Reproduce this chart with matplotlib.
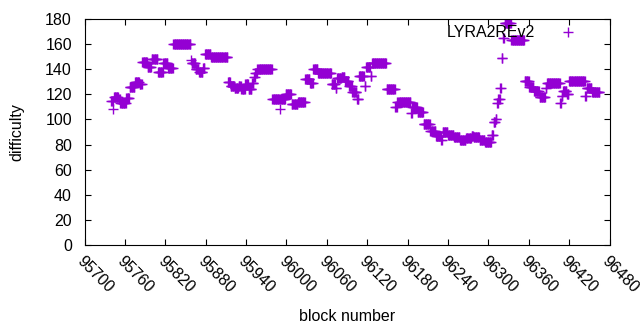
import numpy as np
import matplotlib.pyplot as plt

# runs of (first block, difficulty); each value holds until the next run starts
run_start = [
    95740, 95743, 95744, 95751, 95753, 95762, 95767, 95775, 95782, 95786,
    95794, 95800, 95809, 95817, 95824, 95832, 95858, 95859, 95865, 95870,
    95876, 95879, 95888, 95913, 95917, 95923, 95929, 95933, 95939, 95944,
    95949, 95952, 95954, 95957, 95979, 95991, 95992, 95999, 96008, 96017,
    96028, 96035, 96040, 96047, 96067, 96073, 96075, 96082, 96087, 96093,
    96098, 96105, 96108, 96116, 96118, 96125, 96127, 96149, 96162, 96165,
    96185, 96187, 96195, 96204, 96214, 96222, 96230, 96232, 96240, 96249,
    96258, 96267, 96275, 96278, 96287, 96295, 96305, 96308, 96311, 96313,
    96315, 96318, 96320, 96322, 96324, 96334, 96354, 96361, 96368, 96376,
    96385, 96387, 96407, 96409, 96411, 96417, 96420, 96444, 96446, 96454,
]
run_value = [
    115, 108, 118, 116, 113, 117, 126, 130, 128, 146,
    142, 148, 138, 145, 141, 160, 147, 145, 140, 138,
    141, 152, 150, 130, 127, 125, 127, 124, 128, 124,
    129, 134, 137, 140, 116, 108, 116, 120, 112, 114,
    132, 129, 140, 137, 128, 125, 133, 134, 131, 127,
    122, 116, 135, 127, 142, 135, 145, 124, 110, 114,
    105, 110, 106, 96, 91, 87, 84, 90, 88, 86,
    84, 85, 87, 86, 84, 82, 88, 98, 100, 113,
    116, 125, 149, 165, 177, 163, 131, 126, 123, 118,
    125, 129, 113, 119, 123, 120, 131, 119, 125, 122,
]
last_block = 96465

lengths = np.diff(run_start + [last_block + 1])
blocks = np.arange(run_start[0], last_block + 1)
difficulty = np.repeat(run_value, lengths)

plt.rcParams['font.family'] = ['Liberation Sans', 'DejaVu Sans']
plt.rcParams['font.size'] = 11.5

fig = plt.figure(figsize=(6.4, 3.3), dpi=100)
ax = fig.add_axes([84.5 / 640, 1 - 245 / 330, 525 / 640, 226 / 330])

ax.plot(blocks, difficulty, linestyle='none', marker='+', markersize=7,
        markeredgewidth=1.0, color='#9400d3', label='LYRA2REv2')

ax.set_xlim(95700, 96480)
ax.set_ylim(0, 180)
ax.set_xticks(np.arange(95700, 96481, 60))
ax.set_yticks(np.arange(0, 181, 20))
ax.tick_params(direction='in', top=True, right=True, length=4, width=0.8)
ax.tick_params(axis='y', pad=9)
ax.tick_params(axis='x', pad=6)
for lab in ax.get_xticklabels():
    lab.set_rotation(-45)
    lab.set_ha('left')
    lab.set_va('top')
    lab.set_rotation_mode('anchor')
for s in ax.spines.values():
    s.set_linewidth(0.8)

ax.set_xlabel('block number', labelpad=10)
ax.set_ylabel('difficulty', labelpad=15)

ax.legend(loc='upper right', bbox_to_anchor=(1 - 15 / 525, 1.0), frameon=False,
          markerfirst=False, handlelength=2.5, handletextpad=0.8,
          borderaxespad=0.0, fontsize=11.5)

fig.savefig('out.png', dpi=100)
